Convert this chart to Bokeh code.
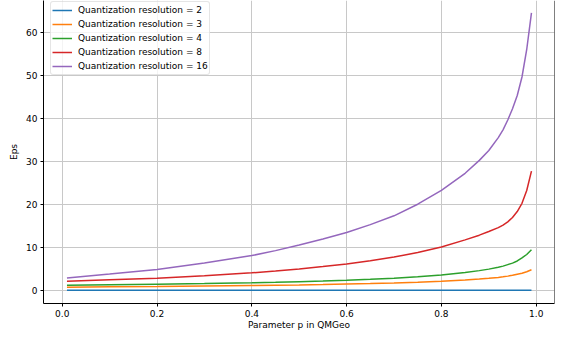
from bokeh.plotting import figure
from bokeh.models import Range1d, FixedTicker, Legend, LegendItem, Span, NumeralTickFormatter
from bokeh.embed import file_html
from bokeh.resources import INLINE

# Parameter p in QMGeo
p_values = [0.01, 0.1, 0.2, 0.3, 0.4, 0.45, 0.5, 0.55, 0.6, 0.65, 0.7, 0.75, 0.8, 0.85,
            0.88, 0.9, 0.92, 0.93, 0.94, 0.95, 0.96, 0.97, 0.98, 0.99]

# Eps for each quantization resolution
eps_res2 = [0.0, 0.0, 0.0, 0.0, 0.0, 0.0, 0.0, 0.0, 0.0, 0.0, 0.0, 0.0, 0.0, 0.0,
            0.0, 0.0, 0.0, 0.0, 0.0, 0.0, 0.0, 0.0, 0.0, 0.0]
eps_res3 = [0.68, 0.78, 0.86, 0.97, 1.08, 1.15, 1.22, 1.31, 1.42, 1.54, 1.68, 1.85, 2.05, 2.35,
            2.58, 2.75, 2.97, 3.1, 3.27, 3.45, 3.7, 3.95, 4.3, 4.75]
eps_res4 = [1.15, 1.25, 1.38, 1.53, 1.72, 1.84, 1.98, 2.13, 2.3, 2.52, 2.8, 3.12, 3.55, 4.1,
            4.55, 4.9, 5.35, 5.6, 5.95, 6.3, 6.8, 7.5, 8.3, 9.4]
eps_res8 = [2.09, 2.4, 2.79, 3.35, 4.04, 4.45, 4.95, 5.5, 6.1, 6.85, 7.7, 8.75, 10.05, 11.7,
            12.8, 13.65, 14.55, 15.15, 15.9, 16.9, 18.3, 20.2, 23.2, 27.7]
eps_res16 = [2.85, 3.75, 4.8, 6.3, 8.05, 9.2, 10.5, 11.9, 13.4, 15.25, 17.3, 20.0, 23.2, 27.2,
             30.2, 32.5, 35.5, 37.3, 39.6, 42.2, 45.3, 49.6, 56.0, 64.5]

labels = ["Quantization resolution = 2", "Quantization resolution = 3",
          "Quantization resolution = 4", "Quantization resolution = 8",
          "Quantization resolution = 16"]
colors = ["#1f77b4", "#ff7f0e", "#2ca02c", "#d62728", "#9467bd"]

x_ticks = [0.0, 0.2, 0.4, 0.6, 0.8, 1.0]
y_ticks = [0, 10, 20, 30, 40, 50, 60]

FONT = "DejaVu Sans"
FS = "9px"

p = figure(width=562, height=340, output_backend="svg", toolbar_location=None,
           x_range=Range1d(-0.0395, 1.0386), y_range=Range1d(-3.1, 67.4),
           min_border_left=43, min_border_right=8, min_border_top=0, min_border_bottom=37)
p.outline_line_color = None
p.background_fill_color = "white"
p.border_fill_color = "white"

renderers = []
for ys, c in zip([eps_res2, eps_res3, eps_res4, eps_res8, eps_res16], colors):
    r = p.line(p_values, ys, line_color=c, line_width=1.5)
    renderers.append(r)

# axes
for ax in (p.xaxis[0], p.yaxis[0]):
    ax.axis_line_color = "black"
    ax.axis_line_width = 1
    ax.major_tick_line_color = "black"
    ax.major_tick_in = 0
    ax.major_tick_out = 3
    ax.minor_tick_line_color = None
    ax.major_label_text_font = FONT
    ax.major_label_text_font_size = FS
    ax.major_label_text_color = "black"
    ax.axis_label_text_font = FONT
    ax.axis_label_text_font_size = FS
    ax.axis_label_text_font_style = "normal"
    ax.axis_label_text_color = "black"
    ax.major_label_standoff = 3

p.xaxis.ticker = FixedTicker(ticks=x_ticks)
p.yaxis.ticker = FixedTicker(ticks=y_ticks)
p.xaxis.formatter = NumeralTickFormatter(format="0.0")
p.yaxis.formatter = NumeralTickFormatter(format="0")
p.xaxis.axis_label = "Parameter p in QMGeo"
p.yaxis.axis_label = "Eps"
p.xaxis.axis_label_standoff = 0
p.yaxis.axis_label_standoff = 4

p.grid.grid_line_color = "#c8c8c8"
p.grid.grid_line_width = 1

# right spine
p.add_layout(Span(location=1.0386, dimension="height", line_color="black", line_width=1))

legend = Legend(items=[LegendItem(label=l, renderers=[r]) for l, r in zip(labels, renderers)],
                location=(7, 228))
legend.label_text_font = FONT
legend.label_text_font_size = FS
legend.label_text_color = "black"
legend.glyph_width = 20
legend.glyph_height = 14
legend.label_height = 14
legend.label_standoff = 6
legend.spacing = 0
legend.padding = 1
legend.margin = 0
legend.border_line_color = "#cccccc"
legend.border_line_width = 1
legend.background_fill_alpha = 0.8
if "border_radius" in legend.properties():
    legend.border_radius = 3
p.add_layout(legend)

open("out.html", "w").write(file_html(p, INLINE))
